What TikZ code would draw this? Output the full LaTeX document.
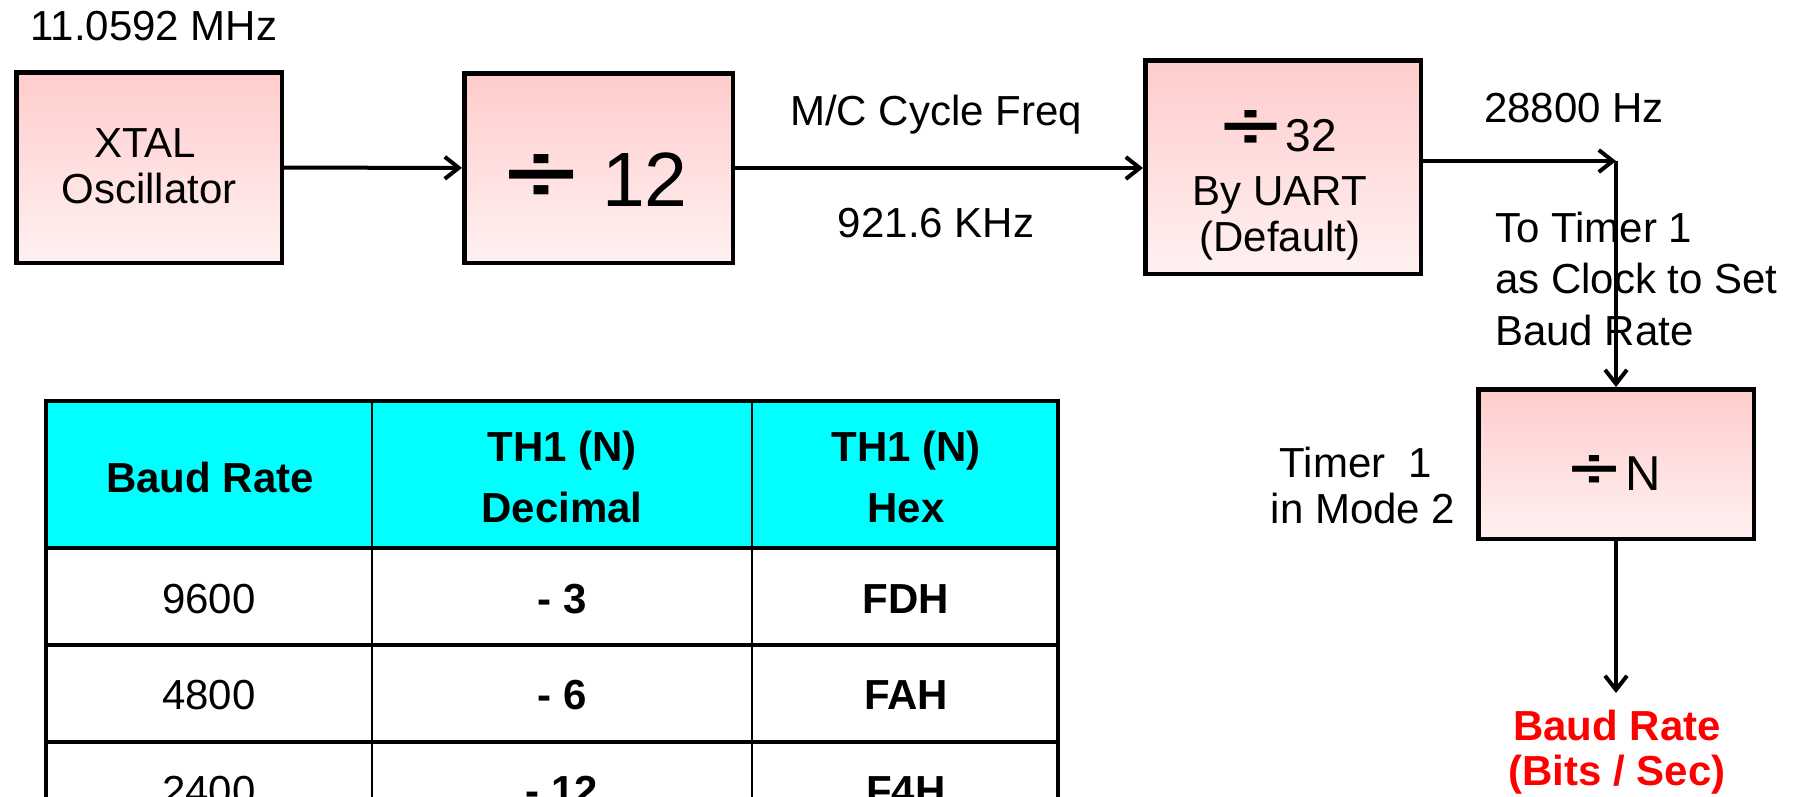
\documentclass[tikz,border=0pt]{standalone}
\usepackage{fontspec}
\setmainfont{Liberation Sans}
\usetikzlibrary{arrows.meta}
\definecolor{boxtop}{RGB}{255,204,204}
\definecolor{boxbot}{RGB}{255,241,241}
\definecolor{hdrcyan}{RGB}{0,255,255}
\definecolor{outred}{RGB}{255,0,0}
\newcommand\fsz[1]{\fontsize{#1}{#1}\selectfont}
\begin{document}
\begin{tikzpicture}[x=1pt,y=-1pt,
  blk/.style={draw=black, line width=4.5pt, top color=boxtop, bottom color=boxbot, inner sep=0pt},
  arr/.style={line width=4pt, -{Straight Barb[length=14pt,width=22pt,line width=4pt]}},
  lbl/.style={inner sep=0pt, anchor=base, font=\fsz{42}},
  hd/.style={lbl, font=\fsz{42}\bfseries},
  sign/.style={inner sep=0pt, anchor=center, font=\bfseries},
  tbh/.style={line width=3.5pt},
  tbo/.style={line width=4.5pt},
  tbi/.style={line width=2.5pt}]
\useasboundingbox (0,0) rectangle (1797,796);

% --- signal chain blocks ---
\node[blk, minimum width=265.5pt, minimum height=190.5pt] (xtal) at (149,167.5) {};
\node[blk, minimum width=268.5pt, minimum height=189.5pt] (d12) at (598.5,168) {};
\node[blk, minimum width=275.5pt, minimum height=213.5pt] (d32) at (1283,167) {};
\node[blk, minimum width=275.5pt, minimum height=149.5pt] (dN) at (1616,464) {};

% crystal
\node[lbl] (fosc) at (154,40) {11.0592 MHz};
\node[lbl] (xtal1) at (145,157) {XTAL};
\node[lbl] (xtal2) at (149,203) {Oscillator};

% divide by 12
\node[sign] (d12s) at (542,177.5) {\resizebox{70pt}{47pt}{÷}};
\node[lbl, font=\fsz{77}] (d12n) at (645,206) {12};

% machine cycle labels
\node[lbl] (mc1) at (936,125) {M/C Cycle Freq};
\node[lbl] (mc2) at (936,237) {921.6 KHz};

% divide by 32
\node[sign] (d32s) at (1251,129) {\resizebox{57pt}{38pt}{÷}};
\node[lbl, font=\fsz{46}] (d32n) at (1311,151) {32};
\node[lbl] (d32a) at (1280,205) {By UART};
\node[lbl] (d32b) at (1280,251) {(Default)};

% timer 1 clock
\node[lbl] (f28) at (1574,122) {28800 Hz};
\node[lbl, anchor=base west] (t1a) at (1495,242) {To Timer 1};
\node[lbl, anchor=base west] (t1b) at (1495,293) {as Clock to Set};
\node[lbl, anchor=base west] (t1c) at (1495,345) {Baud Rate};

% divide by N
\node[sign] (dNsign) at (1594,471) {\resizebox{48pt}{32pt}{÷}};
\node[lbl, font=\fsz{49}] (dNn) at (1643,490) {N};
\node[lbl] (m2a) at (1356,477) {Timer\ \ 1};
\node[lbl] (m2b) at (1363,523) {in Mode 2};

% output
\coordinate (turn) at (1616,161);
\coordinate (out) at (1616,693);
\node[hd, text=outred] (br1) at (1617,740) {Baud Rate};
\node[hd, text=outred] (br2) at (1617,785) {(Bits / Sec)};

% connectors
\draw[arr] (xtal) -- (d12);
\draw[arr] (d12.east) -- (d12.east -| d32.west);
\draw[arr] (d32.east |- turn) -- (turn);
\draw[arr] (turn) -- (dN.north);
\draw[arr] (dN.south) -- (out);

% --- baud rate table (last row runs past the lower edge) ---
\fill[hdrcyan] (46,401) rectangle (1058,548);
\draw[tbh] (46,401) -- (1058,401);
\draw[tbh] (46,548) -- (1058,548);
\draw[tbh] (46,645) -- (1058,645);
\draw[tbh] (46,742) -- (1058,742);
\draw[tbi] (372,401) -- (372,800);
\draw[tbi] (752,401) -- (752,800);
\draw[tbo] (46,399) -- (46,800);
\draw[tbo] (1058,399) -- (1058,800);

\node[hd] (h1) at (210,492) {Baud Rate};
\node[hd] (h2a) at (562,461) {TH1 (N)};
\node[hd] (h2b) at (562,522) {Decimal};
\node[hd] (h3a) at (906,461) {TH1 (N)};
\node[hd] (h3b) at (906,522) {Hex};

\node[lbl] (r1a) at (209,613) {9600};
\node[hd] (r1b) at (562,613) {- 3};
\node[hd] (r1c) at (906,613) {FDH};
\node[lbl] (r2a) at (209,709) {4800};
\node[hd] (r2b) at (562,709) {- 6};
\node[hd] (r2c) at (906,709) {FAH};
\node[lbl] (r3a) at (209,805) {2400};
\node[hd] (r3b) at (562,805) {- 12};
\node[hd] (r3c) at (906,805) {F4H};
\end{tikzpicture}
\end{document}
